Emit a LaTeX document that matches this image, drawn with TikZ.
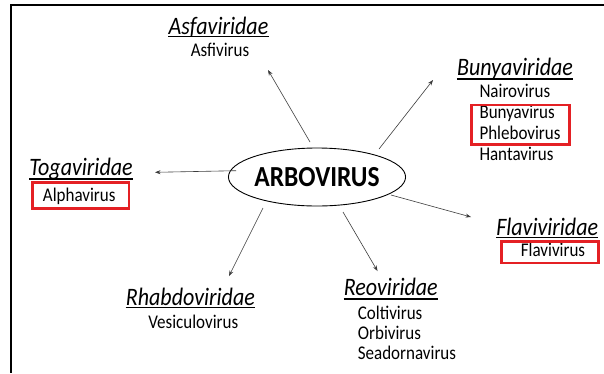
\documentclass[tikz,border=0pt]{standalone}
\usepackage{graphicx}
\usepackage{fontspec}
\setmainfont{Carlito}
\usetikzlibrary{arrows.meta,shapes.geometric}
\definecolor{boxred}{RGB}{228,32,36}
\definecolor{arrgray}{RGB}{60,60,60}
\newcommand\tallbox[1]{\scalebox{1}[1.14]{#1}}
\tikzset{
  fam/.style={font=\fontsize{22}{24}\selectfont\itshape, inner sep=0pt, anchor=base},
  gen/.style={font=\fontsize{17}{19}\selectfont, inner sep=0pt, anchor=base},
  genl/.style={gen, anchor=base west},
  ul/.style={line width=1.1pt},
  redbox/.style={draw=boxred, line width=2.6pt},
  arr/.style={draw=arrgray, line width=0.6pt, -{Stealth[length=5.5pt,width=4pt]}}
}
\begin{document}
\begin{tikzpicture}[x=1pt,y=-1pt]
\useasboundingbox (0,0) rectangle (604,373);
\fill[white] (0,0) rectangle (604,373);
% frame
\coordinate (fr1) at (604,5);
\coordinate (fr2) at (11,5);
\coordinate (fr3) at (11,373);
\draw[line width=1.5pt] (fr1) -- (fr2) -- (fr3);

% centre
\node[ellipse, draw, line width=0.9pt, minimum width=149pt, minimum height=58pt, inner sep=0pt,
      font=\fontsize{25.5}{27}\selectfont\bfseries] (arb) at (317,177) {\tallbox{ARBOVIRUS}};

% Asfaviridae
\node[fam] (asf) at (218.5,34) {\tallbox{Asfaviridae}};
\draw[ul] ([yshift=-2.6pt]asf.base west) -- ([yshift=-2.6pt]asf.base east);
\node[gen] (asfv) at (220,56.5) {\tallbox{Asfivirus}};

% Bunyaviridae
\node[fam] (bun) at (515,75) {\tallbox{Bunyaviridae}};
\draw[ul] ([yshift=-4pt]bun.base west) -- ([yshift=-4pt]bun.base east);
\node[genl] (nai) at (479.3,97.3) {\tallbox{Nairovirus}};
\node[genl] (buv) at (479.3,118.5) {\tallbox{Bunyavirus}};
\node[genl] (phl) at (479.3,139.7) {\tallbox{Phlebovirus}};
\node[genl] (han) at (479.3,160.5) {\tallbox{Hantavirus}};
\coordinate (bb1) at (471.7,105);
\coordinate (bb2) at (569.3,144.3);
\draw[redbox] (bb1) rectangle (bb2);

% Togaviridae
\node[fam] (tog) at (81,175) {\tallbox{Togaviridae}};
\draw[ul] ([yshift=-4pt]tog.base west) -- ([yshift=-4pt]tog.base east);
\node[gen] (alp) at (79.2,201) {\tallbox{Alphavirus}};
\coordinate (tb1) at (32.3,182.5);
\coordinate (tb2) at (129,208.3);
\draw[redbox] (tb1) rectangle (tb2);

% Flaviviridae
\node[fam] (fla) at (547.2,235) {\tallbox{Flaviviridae}};
\draw[ul] ([yshift=-2.7pt]fla.base west) -- ([yshift=-2.7pt]fla.base east);
\node[gen] (flv) at (553,256) {\tallbox{Flavivirus}};
\coordinate (fb1) at (501.7,241.7);
\coordinate (fb2) at (598.3,263);
\draw[redbox] (fb1) rectangle (fb2);

% Reoviridae
\node[fam] (reo) at (390.8,295.7) {\tallbox{Reoviridae}};
\draw[ul] ([yshift=-3.3pt]reo.base west) -- ([yshift=-3.3pt]reo.base east);
\node[genl] (col) at (357.7,319) {\tallbox{Coltivirus}};
\node[genl] (orb) at (357.7,339.3) {\tallbox{Orbivirus}};
\node[genl] (sea) at (357.7,359.5) {\tallbox{Seadornavirus}};

% Rhabdoviridae
\node[fam] (rha) at (190.4,305) {\tallbox{Rhabdoviridae}};
\draw[ul] ([yshift=-2.5pt]rha.base west) -- ([yshift=-2.5pt]rha.base east);
\node[gen] (ves) at (193.3,328.3) {\tallbox{Vesiculovirus}};

% arrows
\coordinate (sA) at (310,142); \coordinate (tA) at (268,70);
\coordinate (sB) at (379,149); \coordinate (tB) at (433,80);
\coordinate (sT) at (236,170.7); \coordinate (tT) at (155,172.3);
\coordinate (sF) at (391,195); \coordinate (tF) at (471,217);
\coordinate (sR) at (343,212); \coordinate (tR) at (377.5,271);
\coordinate (sH) at (263,208); \coordinate (tH) at (229,276);
\draw[arr] (sA) -- (tA);
\draw[arr] (sB) -- (tB);
\draw[arr] (sT) -- (tT);
\draw[arr] (sF) -- (tF);
\draw[arr] (sR) -- (tR);
\draw[arr] (sH) -- (tH);
\end{tikzpicture}
\end{document}
